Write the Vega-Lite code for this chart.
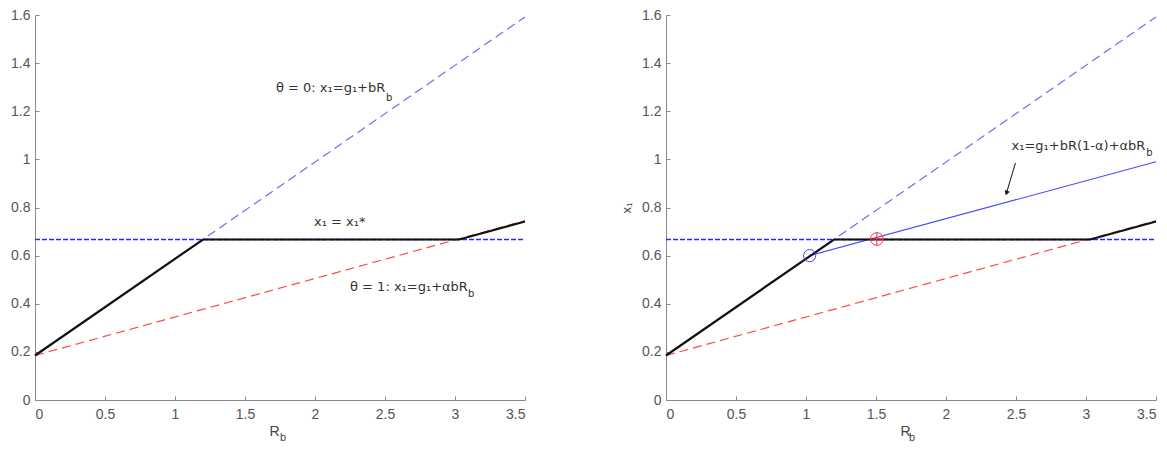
{
  "$schema": "https://vega.github.io/schema/vega-lite/v6.json",
  "background": "white",
  "padding": {"left": 10, "top": 8, "right": 5, "bottom": 5},
  "config": {
    "view": {"stroke": null},
    "font": "Liberation Sans",
    "concat": {"spacing": 90},
    "axis": {
      "grid": false,
      "domainColor": "#8a8a8a",
      "tickColor": "#8a8a8a",
      "tickSize": -4,
      "labelColor": "#555555",
      "labelFont": "Liberation Sans",
      "labelFontSize": 14,
      "titleFont": "Liberation Sans",
      "titleFontSize": 14,
      "titleFontWeight": "normal",
      "titleColor": "#444444"
    },
    "axisX": {"labelPadding": 11, "titlePadding": 3, "titleX": 239},
    "axisY": {"labelPadding": 9}
  },
  "datasets": {
    "lines": [
      {"panel": "L", "series": "theta0", "x": 0, "y": 0.185},
      {"panel": "L", "series": "theta0", "x": 3.5, "y": 1.592},
      {"panel": "L", "series": "xstar", "x": 0, "y": 0.667},
      {"panel": "L", "series": "xstar", "x": 3.5, "y": 0.667},
      {"panel": "L", "series": "theta1", "x": 0, "y": 0.185},
      {"panel": "L", "series": "theta1", "x": 3.5, "y": 0.745},
      {"panel": "L", "series": "opt", "x": 0, "y": 0.185},
      {"panel": "L", "series": "opt", "x": 1.2, "y": 0.667},
      {"panel": "L", "series": "opt", "x": 3.03, "y": 0.667},
      {"panel": "L", "series": "opt", "x": 3.5, "y": 0.742},
      {"panel": "R", "series": "theta0", "x": 0, "y": 0.185},
      {"panel": "R", "series": "theta0", "x": 3.5, "y": 1.592},
      {"panel": "R", "series": "xstar", "x": 0, "y": 0.667},
      {"panel": "R", "series": "xstar", "x": 3.5, "y": 0.667},
      {"panel": "R", "series": "theta1", "x": 0, "y": 0.185},
      {"panel": "R", "series": "theta1", "x": 3.5, "y": 0.745},
      {"panel": "R", "series": "mixed", "x": 1.026, "y": 0.6},
      {"panel": "R", "series": "mixed", "x": 3.5, "y": 0.99},
      {"panel": "R", "series": "opt", "x": 0, "y": 0.185},
      {"panel": "R", "series": "opt", "x": 1.2, "y": 0.667},
      {"panel": "R", "series": "opt", "x": 3.03, "y": 0.667},
      {"panel": "R", "series": "opt", "x": 3.5, "y": 0.742}
    ],
    "points": [
      {"panel": "R", "kind": "blue", "x": 1.026, "y": 0.6},
      {"panel": "R", "kind": "red", "x": 1.506, "y": 0.669}
    ],
    "labels": [
      {"panel": "L", "kind": "main", "x": 1.721, "y": 1.297, "text": "θ = 0: x₁=g₁+bR"},
      {"panel": "L", "kind": "sub", "x": 2.507, "y": 1.255, "text": "b"},
      {"panel": "L", "kind": "main", "x": 1.993, "y": 0.74, "text": "x₁ = x₁*"},
      {"panel": "L", "kind": "main", "x": 2.25, "y": 0.468, "text": "θ = 1: x₁=g₁+αbR"},
      {"panel": "L", "kind": "sub", "x": 3.093, "y": 0.44, "text": "b"},
      {"panel": "L", "kind": "axsub", "x": 1.75, "y": -0.158, "text": "b"},
      {"panel": "R", "kind": "main", "x": 2.468, "y": 1.054, "text": "x₁=g₁+bR(1-α)+αbR"},
      {"panel": "R", "kind": "sub", "x": 3.43, "y": 1.027, "text": "b"},
      {"panel": "R", "kind": "axsub", "x": 1.736, "y": -0.158, "text": "b"}
    ],
    "arrow": [
      {"panel": "R", "x": 2.496, "y": 0.985, "x2": 2.432, "y2": 0.86}
    ]
  },
  "hconcat": [
    {
      "width": 490,
      "height": 385,
      "encoding": {
        "x": {"field": "x", "type": "quantitative", "scale": {"domain": [0, 3.5], "nice": false, "zero": false}, "axis": {"values": [0, 0.5, 1, 1.5, 2, 2.5, 3, 3.5], "labelExpr": "'' + datum.value", "title": "R"}},
        "y": {"field": "y", "type": "quantitative", "scale": {"domain": [0, 1.6], "nice": false, "zero": false}, "axis": {"values": [0, 0.2, 0.4, 0.6, 0.8, 1, 1.2, 1.4, 1.6], "labelExpr": "'' + datum.value", "title": null}}
      },
      "layer": [
        {"data": {"name": "lines"}, "transform": [{"filter": "datum.panel == 'L' && datum.series == 'theta0'"}], "mark": {"type": "line", "color": "#6e6ef2", "strokeWidth": 1.2, "strokeDash": [9, 5]}},
        {"data": {"name": "lines"}, "transform": [{"filter": "datum.panel == 'L' && datum.series == 'xstar'"}], "mark": {"type": "line", "color": "#2a2aff", "strokeWidth": 1.5, "strokeDash": [5, 2]}},
        {"data": {"name": "lines"}, "transform": [{"filter": "datum.panel == 'L' && datum.series == 'theta1'"}], "mark": {"type": "line", "color": "#ff4a4a", "strokeWidth": 1.2, "strokeDash": [9, 5]}},
        {"data": {"name": "lines"}, "transform": [{"filter": "datum.panel == 'L' && datum.series == 'opt'"}], "mark": {"type": "line", "color": "#111111", "strokeWidth": 2.2}},
        {"data": {"name": "labels"}, "transform": [{"filter": "datum.panel == 'L' && datum.kind == 'main'"}], "mark": {"type": "text", "align": "left", "baseline": "middle", "font": "DejaVu Sans", "fontSize": 13, "color": "#333333"}, "encoding": {"text": {"field": "text"}}},
        {"data": {"name": "labels"}, "transform": [{"filter": "datum.panel == 'L' && datum.kind == 'sub'"}], "mark": {"type": "text", "align": "left", "baseline": "middle", "font": "DejaVu Sans", "fontSize": 10, "color": "#333333"}, "encoding": {"text": {"field": "text"}}},
        {"data": {"name": "labels"}, "transform": [{"filter": "datum.panel == 'L' && datum.kind == 'axsub'"}], "mark": {"type": "text", "align": "left", "baseline": "middle", "fontSize": 11, "color": "#444444"}, "encoding": {"text": {"field": "text"}}}
      ]
    },
    {
      "width": 490,
      "height": 385,
      "encoding": {
        "x": {"field": "x", "type": "quantitative", "scale": {"domain": [0, 3.5], "nice": false, "zero": false}, "axis": {"values": [0, 0.5, 1, 1.5, 2, 2.5, 3, 3.5], "labelExpr": "'' + datum.value", "title": "R"}},
        "y": {"field": "y", "type": "quantitative", "scale": {"domain": [0, 1.6], "nice": false, "zero": false}, "axis": {"values": [0, 0.2, 0.4, 0.6, 0.8, 1, 1.2, 1.4, 1.6], "labelExpr": "'' + datum.value", "title": "x₁", "titleFontSize": 13, "titlePadding": 8}}
      },
      "layer": [
        {"data": {"name": "lines"}, "transform": [{"filter": "datum.panel == 'R' && datum.series == 'theta0'"}], "mark": {"type": "line", "color": "#6e6ef2", "strokeWidth": 1.2, "strokeDash": [9, 5]}},
        {"data": {"name": "lines"}, "transform": [{"filter": "datum.panel == 'R' && datum.series == 'xstar'"}], "mark": {"type": "line", "color": "#2a2aff", "strokeWidth": 1.5, "strokeDash": [5, 2]}},
        {"data": {"name": "lines"}, "transform": [{"filter": "datum.panel == 'R' && datum.series == 'theta1'"}], "mark": {"type": "line", "color": "#ff4a4a", "strokeWidth": 1.2, "strokeDash": [9, 5]}},
        {"data": {"name": "lines"}, "transform": [{"filter": "datum.panel == 'R' && datum.series == 'mixed'"}], "mark": {"type": "line", "color": "#4848ff", "strokeWidth": 1.1}},
        {"data": {"name": "lines"}, "transform": [{"filter": "datum.panel == 'R' && datum.series == 'opt'"}], "mark": {"type": "line", "color": "#111111", "strokeWidth": 2.2}},
        {"data": {"name": "points"}, "transform": [{"filter": "datum.kind == 'blue'"}], "mark": {"type": "point", "shape": "circle", "filled": false, "size": 150, "color": "#4848ff", "strokeWidth": 1, "opacity": 1}},
        {"data": {"name": "points"}, "transform": [{"filter": "datum.kind == 'red'"}], "mark": {"type": "point", "shape": "circle", "filled": false, "size": 160, "color": "#ff3030", "strokeWidth": 1, "opacity": 1}},
        {"data": {"name": "points"}, "transform": [{"filter": "datum.kind == 'red'"}], "mark": {"type": "point", "shape": "M-1,0L1,0M0,-1L0,1", "filled": false, "size": 190, "color": "#ff3030", "strokeWidth": 1, "opacity": 1}},
        {"data": {"name": "arrow"}, "mark": {"type": "rule", "color": "#111111", "strokeWidth": 1}, "encoding": {"x2": {"field": "x2"}, "y2": {"field": "y2"}}},
        {"data": {"name": "arrow"}, "mark": {"type": "point", "shape": "triangle-down", "filled": true, "size": 30, "angle": 20, "color": "#111111", "opacity": 1}, "encoding": {"x": {"field": "x2", "type": "quantitative"}, "y": {"field": "y2", "type": "quantitative"}}},
        {"data": {"name": "labels"}, "transform": [{"filter": "datum.panel == 'R' && datum.kind == 'main'"}], "mark": {"type": "text", "align": "left", "baseline": "middle", "font": "DejaVu Sans", "fontSize": 13, "color": "#333333"}, "encoding": {"text": {"field": "text"}}},
        {"data": {"name": "labels"}, "transform": [{"filter": "datum.panel == 'R' && datum.kind == 'sub'"}], "mark": {"type": "text", "align": "left", "baseline": "middle", "font": "DejaVu Sans", "fontSize": 10, "color": "#333333"}, "encoding": {"text": {"field": "text"}}},
        {"data": {"name": "labels"}, "transform": [{"filter": "datum.panel == 'R' && datum.kind == 'axsub'"}], "mark": {"type": "text", "align": "left", "baseline": "middle", "fontSize": 11, "color": "#444444"}, "encoding": {"text": {"field": "text"}}}
      ]
    }
  ]
}
